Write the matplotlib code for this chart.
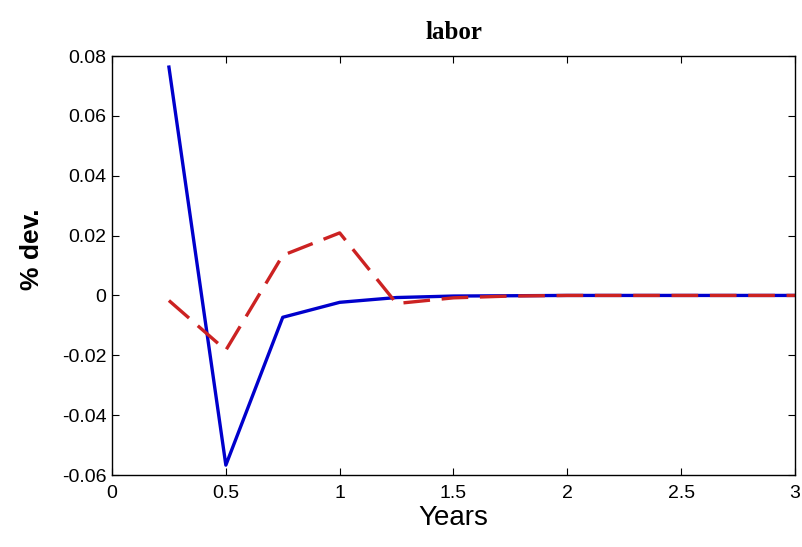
import matplotlib.pyplot as plt
import numpy as np

# --- DATA ---
years = [0.25, 0.5, 0.75, 1.0, 1.25, 1.5, 1.75, 2.0, 2.25, 2.5, 2.75, 3.0]
labor_blue = [0.0763, -0.0567, -0.0073, -0.0023, -0.0007, -0.0002, -0.0001, 0.0, 0.0, 0.0, 0.0, 0.0]
labor_red = [-0.0017, -0.0183, 0.0134, 0.0209, -0.0027, -0.0008, -0.0002, 0.0, 0.0, 0.0, 0.0, 0.0]

xticks = [0, 0.5, 1, 1.5, 2, 2.5, 3]
xtick_labels = ['0', '0.5', '1', '1.5', '2', '2.5', '3']
yticks = [-0.06, -0.04, -0.02, 0, 0.02, 0.04, 0.06, 0.08]
ytick_labels = ['-0.06', '-0.04', '-0.02', '0', '0.02', '0.04', '0.06', '0.08']

plt.rcParams['font.family'] = ['Liberation Sans', 'DejaVu Sans']

fig = plt.figure(figsize=(8.03, 5.47), dpi=100)
ax = fig.add_axes([0.1395, 0.1316, 0.8505, 0.766])

ax.plot(years, labor_blue, color='#0000cc', linewidth=2.4)
ax.plot(years, labor_red, color='#cc2222', linewidth=2.4, linestyle=(0, (8, 3.5)))

ax.set_xlim(0, 3)
ax.set_ylim(-0.06, 0.08)
ax.set_xticks(xticks)
ax.set_xticklabels(xtick_labels)
ax.set_yticks(yticks)
ax.set_yticklabels(ytick_labels)
ax.tick_params(direction='in', top=True, right=True, length=5, labelsize=14, pad=4)
ax.tick_params(axis='x', pad=7)
for s in ax.spines.values():
    s.set_linewidth(1.0)

ax.set_title('labor', fontsize=18, fontweight='bold', family=['Liberation Serif'], pad=12)
ax.set_xlabel('Years', fontsize=20, labelpad=2)
ax.set_ylabel('% dev.', fontsize=19, fontweight='bold')
ax.yaxis.set_label_coords(-0.1, 0.54)

plt.savefig('out.png', dpi=100)
plt.close()
